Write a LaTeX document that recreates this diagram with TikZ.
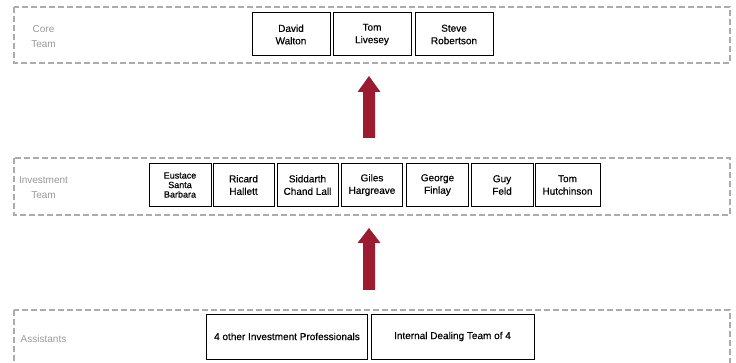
\documentclass[tikz,border=0pt]{standalone}
\usepackage{fontspec}
\setmainfont{Liberation Sans}
\newfontfamily\boxfont[FakeBold=0.4]{Liberation Sans}
\begin{document}
\begin{tikzpicture}[x=1pt,y=-1pt,
  panel/.style={draw=gray!65,line width=1.7pt,dash pattern=on 6pt off 3pt},
  lbl/.style={text=gray!80,font=\fontsize{10}{15}\selectfont,align=center},
  person/.style={draw=black,line width=1pt,minimum height=43pt,inner sep=1pt,align=center,font=\boxfont\fontsize{10}{12.5}\selectfont},
  bigarrow/.style={fill=arrowred,draw=none}
]
\definecolor{arrowred}{RGB}{155,27,48}
\useasboundingbox (0,0) rectangle (736,363);
\clip (0,0) rectangle (736,363);
% panels
\draw[panel] (14,7) rectangle (730,63);
\draw[panel] (14,158) rectangle (730,215);
\draw[panel] (14,310) rectangle (730,375);
% labels
\node[lbl] (lcore) at (43.5,36.5) {Core\\Team};
\node[lbl] (linv) at (43.5,187.5) {Investment\\Team};
\node[lbl] (lass) at (43.5,339) {Assistants};
% core team
\node[person,minimum width=78pt] (dw) at (291,34.5) {David\\Walton};
\node[person,minimum width=78pt] (tl) at (372,34.5) {Tom\\Livesey};
\node[person,minimum width=78pt] (sr) at (454,34.5) {Steve\\Robertson};
% investment team
\node[person,minimum width=62pt,font=\boxfont\fontsize{9}{9.5}\selectfont] (esb) at (180,185) {Eustace\\Santa\\Barbara};
\node[person,minimum width=61pt] (rh) at (243.5,185) {Ricard\\Hallett};
\node[person,minimum width=61pt] (scl) at (307.5,185) {Siddarth\\Chand Lall};
\node[person,minimum width=61pt] (gh) at (372,185) {Giles\\Hargreave};
\node[person,minimum width=62pt] (gf) at (437.5,185) {George\\Finlay};
\node[person,minimum width=62pt] (gfe) at (502,185) {Guy\\Feld};
\node[person,minimum width=65pt] (th) at (567.5,185) {Tom\\Hutchinson};
% assistants
\node[person,minimum width=161pt,minimum height=45pt] (oip) at (287,336.5) {4 other Investment Professionals};
\node[person,minimum width=163pt,minimum height=45pt] (idt) at (452.5,336.5) {Internal Dealing Team of 4};
% arrows
\coordinate (a1) at (369,138);
\coordinate (a2) at (369,290);
\fill[bigarrow] ([xshift=-6pt]a1) -- ++(0,-46) -- ++(-5.5,0) -- (369,76) -- (380.5,92) -- ++(-5.5,0) -- ([xshift=6pt]a1) -- cycle;
\fill[bigarrow] ([xshift=-6pt]a2) -- ++(0,-47) -- ++(-5.5,0) -- (369,228) -- (380.5,243) -- ++(-5.5,0) -- ([xshift=6pt]a2) -- cycle;
\end{tikzpicture}
\end{document}
